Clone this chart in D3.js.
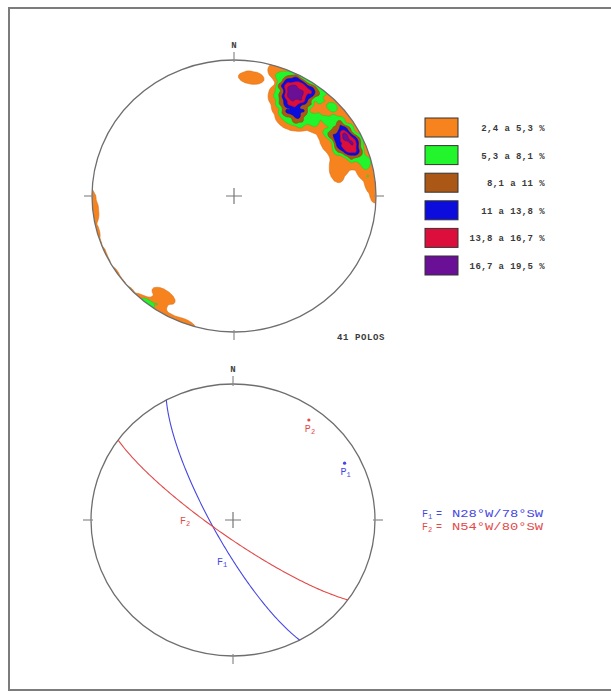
<!DOCTYPE html>
<html>
<head>
<meta charset="utf-8">
<script src="https://cdn.jsdelivr.net/npm/d3@7"></script>
<style>
  body { margin: 0; background: #fff; }
  svg { display: block; }
  text { font-family: "Liberation Mono", "DejaVu Sans Mono", monospace; }
</style>
</head>
<body>
<svg id="chart" width="611" height="692"></svg>
<script>
// ---- Poles to joints (lower hemisphere): trend / plunge in degrees ----
const poleTrend = [
  26, 30, 34, 28, 32, 30, 27, 33,          // northern maximum
  60, 64, 67, 61, 65, 63, 62,              // eastern maximum
  21, 22, 33, 36, 41,                      // along the primitive, NNE
  24, 27, 32, 36, 31, 40, 43, 36,          // inner part of the northern set
  48, 52, 55, 50,                          // between both maxima
  60, 70, 76,                              // inner part of the eastern set
  70, 75, 80,                              // along the primitive, ENE
  8, 87, 214                               // scattered
];
const polePlunge = [
  9, 8, 10, 14, 14, 11, 17, 17,
  6, 7, 10, 13, 14, 11, 16,
  2, 6, 1, 2, 4,
  20, 25, 22, 27, 30, 21, 26, 33,
  10, 4, 15, 20,
  24, 20, 26,
  4, 9, 3,
  13, 1, 12
];

// ---- Density classes (% of poles per counting area) ----
const levelLow  = [2.4, 5.3, 8.1, 11, 13.8, 16.7];
const levelHigh = [5.3, 8.1, 11, 13.8, 16.7, 19.5];
const levelColors = ["#f7831f", "#22f52c", "#ab5716", "#0c0cdc", "#dc0f3c", "#6a1096"];
const countingCone = 7.5;   // half-angle of the counting cone, degrees

// ---- Fault planes: strike azimuth / dip (dipping to the SW) ----
const faultNames  = ["1", "2"];
const faultStrike = [332, 306];
const faultDip    = [78, 80];
const faultColors = ["#4646e2", "#e24a4a"];

const svg = d3.select("#chart");
const rad = Math.PI / 180;

// outer frame (its right side runs off the page)
svg.append("rect")
  .attr("x", 9).attr("y", 8).attr("width", 612).attr("height", 682)
  .attr("fill", "none").attr("stroke", "#7c7c7c").attr("stroke-width", 2);

// ---- Schmidt (equal-area, lower hemisphere) helpers ----
function toVec(trend, plunge) {
  const t = trend * rad, p = plunge * rad;
  return [Math.cos(p) * Math.sin(t), Math.cos(p) * Math.cos(t), -Math.sin(p)];
}
function project(v) {
  let [x, y, z] = v;
  if (z > 0) { x = -x; y = -y; z = -z; }
  const len = Math.hypot(x, y, z);
  x /= len; y /= len; z /= len;
  const theta = Math.acos(Math.min(1, -z));
  const r = Math.SQRT2 * Math.sin(theta / 2);
  const h = Math.hypot(x, y);
  if (h < 1e-12) return [0, 0];
  return [r * x / h, r * y / h];
}
function unproject(u, v) {
  const r = Math.hypot(u, v);
  if (r < 1e-12) return [0, 0, -1];
  const rc = Math.min(r, 1);
  const theta = 2 * Math.asin(rc / Math.SQRT2);
  const s = Math.sin(theta);
  return [s * u / r, s * v / r, -Math.cos(theta)];
}

function makeNet(cx, cy, rx, ry) {
  return {
    x: d3.scaleLinear().domain([-1, 1]).range([cx - rx, cx + rx]),
    y: d3.scaleLinear().domain([-1, 1]).range([cy + ry, cy - ry])
  };
}

function drawPrimitive(g, net) {
  const cx = net.x(0), cy = net.y(0);
  const rx = net.x(1) - cx, ry = cy - net.y(1);
  g.append("ellipse")
    .attr("cx", cx).attr("cy", cy).attr("rx", rx).attr("ry", ry)
    .attr("fill", "none").attr("stroke", "#6e6e6e").attr("stroke-width", 1.3);
  // cardinal ticks
  const ticks = [[0, 1, 0, -1], [1, 0, 1, 0], [0, -1, 0, 1], [-1, 0, -1, 0]];
  ticks.forEach(([u, v, dx, dy]) => {
    const px = net.x(u), py = net.y(v);
    g.append("line")
      .attr("x1", px - dx * 2).attr("y1", py - dy * 2)
      .attr("x2", px + dx * 8).attr("y2", py + dy * 8)
      .attr("stroke", "#8a8a8a").attr("stroke-width", 1.2);
  });
  // centre cross
  g.append("path")
    .attr("d", `M${cx - 8},${cy}H${cx + 8}M${cx},${cy - 8}V${cy + 8}`)
    .attr("stroke", "#777").attr("stroke-width", 1.2);
  g.append("text")
    .attr("x", cx).attr("y", net.y(1) - 12)
    .attr("text-anchor", "middle")
    .attr("font-size", 9).attr("font-weight", "bold").attr("fill", "#444")
    .text("N");
}

// =================== Upper net: pole density ===================
const netA = makeNet(234, 196, 142, 136);
const gA = svg.append("g");

gA.append("clipPath").attr("id", "primA")
  .append("ellipse")
  .attr("cx", netA.x(0)).attr("cy", netA.y(0))
  .attr("rx", netA.x(1) - netA.x(0)).attr("ry", netA.y(0) - netA.y(1));

// counting grid: % of poles falling inside the cone around each node
const n = 241;
const poleVecs = poleTrend.map((t, i) => toVec(t, polePlunge[i]));
const cosCone = Math.cos(countingCone * rad);
const density = new Float64Array(n * n);
for (let j = 0; j < n; j++) {
  const v = 1 - 2 * j / (n - 1);
  for (let i = 0; i < n; i++) {
    const u = -1 + 2 * i / (n - 1);
    const gv = unproject(u, v);
    let c = 0;
    for (const p of poleVecs) {
      const d = gv[0] * p[0] + gv[1] * p[1] + gv[2] * p[2];
      if (Math.abs(d) >= cosCone) c++;
    }
    density[j * n + i] = c / poleVecs.length * 100;
  }
}
// light smoothing of the counts before contouring
if (d3.blur2) d3.blur2({ data: density, width: n, height: n }, 1);

const bands = d3.contours().size([n, n]).thresholds(levelLow)(density);
const gridPath = d3.geoPath(d3.geoTransform({
  point(px, py) {
    const u = -1 + 2 * (px - 0.5) / (n - 1);
    const v = 1 - 2 * (py - 0.5) / (n - 1);
    this.stream.point(netA.x(u), netA.y(v));
  }
}));
gA.append("g").attr("clip-path", "url(#primA)")
  .selectAll("path").data(bands).join("path")
  .attr("d", gridPath)
  .attr("fill", (d, i) => levelColors[i])
  .attr("stroke", (d, i) => d3.color(levelColors[i]).darker(0.4))
  .attr("stroke-width", 0.6);

drawPrimitive(gA, netA);

// legend of density classes
const legA = svg.append("g");
levelLow.forEach((lo, i) => {
  const y0 = 118 + i * 27.6;
  legA.append("rect")
    .attr("x", 425).attr("y", y0).attr("width", 33).attr("height", 19)
    .attr("fill", levelColors[i]).attr("stroke", "#333").attr("stroke-width", 1);
  legA.append("text")
    .attr("x", 545).attr("y", y0 + 13)
    .attr("text-anchor", "end")
    .attr("font-size", 9).attr("font-weight", "bold").attr("fill", "#3a3a3a")
    .attr("letter-spacing", 0.4)
    .text(`${String(lo).replace(".", ",")} a ${String(levelHigh[i]).replace(".", ",")} %`);
});

svg.append("text")
  .attr("x", 337).attr("y", 340)
  .attr("font-size", 9).attr("font-weight", "bold").attr("fill", "#3a3a3a")
  .attr("letter-spacing", 0.6)
  .text(`${poleTrend.length} POLOS`);

// =================== Lower net: fault planes ===================
const netB = makeNet(233, 520, 142, 136);
const gB = svg.append("g");
drawPrimitive(gB, netB);

function quadrant(az) {
  az = ((az % 360) + 360) % 360;
  if (az <= 90) return `N${az}°E`;
  if (az < 180) return `S${180 - az}°E`;
  if (az < 270) return `S${az - 180}°W`;
  return `N${360 - az}°W`;
}
const compass = ["N", "NE", "E", "SE", "S", "SW", "W", "NW"];

const planeNormals = [];
faultStrike.forEach((strike, k) => {
  const dip = faultDip[k];
  const dipDir = (strike - 90 + 360) % 360;
  const s = [Math.sin(strike * rad), Math.cos(strike * rad), 0];
  const dv = [Math.sin(dipDir * rad) * Math.cos(dip * rad),
              Math.cos(dipDir * rad) * Math.cos(dip * rad),
              -Math.sin(dip * rad)];
  const pts = d3.range(0, 180.5, 1).map(t => {
    const c = Math.cos(t * rad), sn = Math.sin(t * rad);
    return project([c * s[0] + sn * dv[0], c * s[1] + sn * dv[1], c * s[2] + sn * dv[2]]);
  });
  gB.append("path")
    .attr("d", d3.line().x(p => netB.x(p[0])).y(p => netB.y(p[1]))(pts))
    .attr("fill", "none").attr("stroke", faultColors[k]).attr("stroke-width", 1.1);

  // pole of the plane
  const poleT = (dipDir + 180) % 360, poleP = 90 - dip;
  const nv = toVec(poleT, poleP);
  planeNormals.push(nv);
  const pp = project(nv);
  const px = netB.x(pp[0]), py = netB.y(pp[1]);
  gB.append("circle").attr("cx", px).attr("cy", py).attr("r", 1.6).attr("fill", faultColors[k]);
  const lab = gB.append("text")
    .attr("x", px - 4).attr("y", py + 12)
    .attr("font-size", 10).attr("fill", faultColors[k]);
  lab.append("tspan").text("P");
  lab.append("tspan").attr("font-size", 7).attr("dy", 2).text(faultNames[k]);

  // legend line
  const ly = 517 + k * 13;
  const lt = svg.append("text").attr("x", 422).attr("y", ly)
    .attr("font-size", 10).attr("fill", faultColors[k]);
  lt.append("tspan").text("F");
  lt.append("tspan").attr("font-size", 7).attr("dy", 2).text(faultNames[k]);
  svg.append("text").attr("x", 436).attr("y", ly)
    .attr("font-size", 10).attr("fill", faultColors[k]).text("=");
  svg.append("text").attr("x", 452).attr("y", ly)
    .attr("font-size", 10).attr("fill", faultColors[k])
    .attr("textLength", 91).attr("lengthAdjust", "spacingAndGlyphs")
    .text(`${quadrant(strike)}/${dip}°${compass[Math.round(dipDir / 45) % 8]}`);
});

// plane labels, placed around the line of intersection
const a = planeNormals[0], b = planeNormals[1];
const ix = project([a[1] * b[2] - a[2] * b[1], a[2] * b[0] - a[0] * b[2], a[0] * b[1] - a[1] * b[0]]);
const ipx = netB.x(ix[0]), ipy = netB.y(ix[1]);
const labelOffsets = [[4, 38], [-33, -3]];
faultNames.forEach((nm, k) => {
  const t = gB.append("text")
    .attr("x", ipx + labelOffsets[k][0]).attr("y", ipy + labelOffsets[k][1])
    .attr("font-size", 10).attr("fill", faultColors[k]);
  t.append("tspan").text("F");
  t.append("tspan").attr("font-size", 7).attr("dy", 2).text(nm);
});
</script>
</body>
</html>
